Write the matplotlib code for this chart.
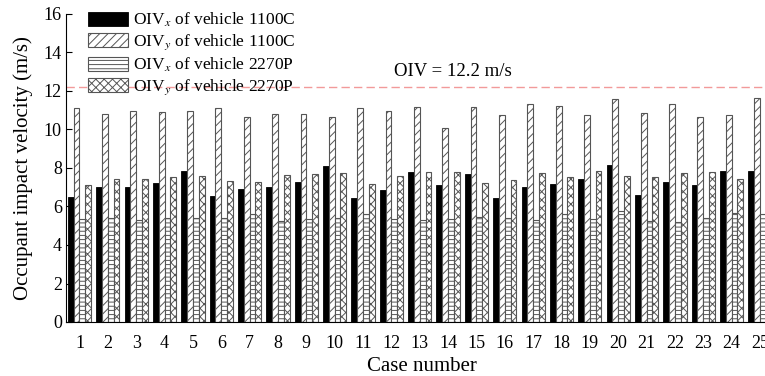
import numpy as np
import matplotlib
matplotlib.use("Agg")
import matplotlib.pyplot as plt

plt.rcParams['font.family'] = ['Liberation Serif', 'DejaVu Serif']
plt.rcParams['mathtext.fontset'] = 'stix'
plt.rcParams['hatch.linewidth'] = 0.7

cases = list(range(1, 26))
oivx_1100c = [6.47, 7.00, 7.00, 7.22, 7.83, 6.56, 6.93, 7.00, 7.29, 8.09,
              6.42, 6.88, 7.78, 7.14, 7.67, 6.42, 7.03, 7.15, 7.45, 8.16,
              6.61, 7.27, 7.14, 7.86, 7.86]
oivy_1100c = [11.13, 10.83, 10.97, 10.89, 10.97, 11.13, 10.66, 10.80, 10.78, 10.63,
              11.11, 10.97, 11.18, 10.09, 11.16, 10.75, 11.32, 11.23, 10.76, 11.60,
              10.85, 11.32, 10.66, 10.76, 11.65]
oivx_2270p = [5.36, 5.40, 5.31, 5.40, 5.38, 5.40, 5.62, 5.24, 5.35, 5.40,
              5.61, 5.34, 5.28, 5.36, 5.45, 5.40, 5.31, 5.62, 5.34, 5.78,
              5.26, 5.19, 5.40, 5.68, 5.62]
oivy_2270p = [7.14, 7.45, 7.45, 7.53, 7.57, 7.34, 7.27, 7.62, 7.69, 7.74,
              7.17, 7.60, 7.78, 7.80, 7.22, 7.40, 7.74, 7.52, 7.84, 7.57,
              7.52, 7.76, 7.78, 7.45, 7.60]
oiv_limit = 12.2

fig = plt.figure(figsize=(7.65, 3.76), dpi=100)
ax = fig.add_axes([66 / 765, 54 / 376, 711 / 765, 308 / 376])

x = np.array(cases)
w = 0.205
ax.bar(x - 1.5 * w, oivx_1100c, w, color='black', edgecolor='black', linewidth=0.6,
       label='OIV$_x$ of vehicle 1100C')
ax.bar(x - 0.5 * w, oivy_1100c, w, color='white', edgecolor='#555555', hatch='////',
       linewidth=0.8, label='OIV$_y$ of vehicle 1100C')
ax.bar(x + 0.5 * w, oivx_2270p, w, color='white', edgecolor='#555555', hatch='----',
       linewidth=0.8, label='OIV$_x$ of vehicle 2270P')
ax.bar(x + 1.5 * w, oivy_2270p, w, color='white', edgecolor='#555555', hatch='xxxx',
       linewidth=0.8, label='OIV$_y$ of vehicle 2270P')

# limit line
ax.axhline(oiv_limit, color='#f29a9a', linestyle=(0, (6, 3)), linewidth=1.0, zorder=0)
ax.text(14.17, 13.0, 'OIV = 12.2 m/s', ha='center', va='center', fontsize=13.5)

ax.set_xlim(0.524, 25.6)
ax.set_ylim(0, 16)
ax.set_xticks(cases)
ax.set_yticks(range(0, 17, 2))
ax.tick_params(axis='x', length=0, pad=9, labelsize=13)
ax.tick_params(axis='y', direction='in', length=4, pad=3, labelsize=13)
for s in ['top', 'right']:
    ax.spines[s].set_visible(False)

ax.set_xlabel('Case number', fontsize=15, labelpad=4)
ax.set_ylabel('Occupant impact velocity (m/s)', fontsize=15, labelpad=8)

ax.legend(loc='upper left', bbox_to_anchor=(88 / 765, 1 - 11 / 376),
          bbox_transform=fig.transFigure, frameon=False, fontsize=12.5,
          handlelength=2.3, handleheight=0.9, handletextpad=0.3,
          labelspacing=0.2, borderpad=0, borderaxespad=0)

fig.savefig('out.png', dpi=100)
